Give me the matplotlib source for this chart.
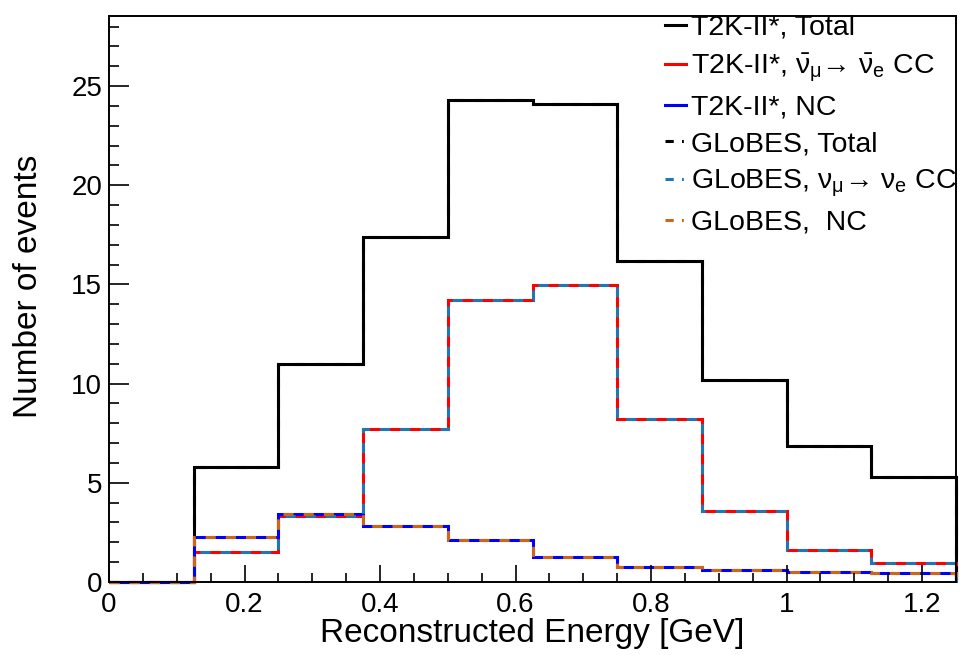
import numpy as np
import matplotlib
matplotlib.use('Agg')
import matplotlib.pyplot as plt
from matplotlib.lines import Line2D
from matplotlib.ticker import MultipleLocator, FormatStrFormatter

plt.rcParams['font.family'] = ['Liberation Sans', 'DejaVu Sans']
plt.rcParams['mathtext.fontset'] = 'custom'
plt.rcParams['mathtext.rm'] = 'Liberation Sans'
plt.rcParams['mathtext.it'] = 'Liberation Sans'

# bin edges of the reconstructed energy (GeV)
bordes = np.arange(0, 1.25 + 1e-9, 0.125)

# T2K-II* spectra
t2k_total = [0, 5.8, 11.0, 17.4, 24.3, 24.1, 16.2, 10.2, 6.85, 5.3]
t2k_cc = [0, 1.53, 3.35, 7.7, 14.2, 14.95, 8.2, 3.6, 1.62, 0.95]
t2k_nc = [0, 2.26, 3.42, 2.83, 2.1, 1.25, 0.74, 0.59, 0.52, 0.47]

# GLoBES spectra
glb_total = [0, 5.8, 11.0, 17.4, 24.3, 24.1, 16.2, 10.2, 6.85, 5.3]
glb_cc = [0, 1.53, 3.35, 7.7, 14.2, 14.95, 8.2, 3.6, 1.62, 0.95]
glb_nc = [0, 2.26, 3.42, 2.83, 2.1, 1.25, 0.74, 0.59, 0.52, 0.47]

etiquetas = ['T2K-II*, Total',
             'T2K-II*, $\\bar{\\nu}_{\\mu}$\u2192 $\\bar{\\nu}_{e}$ CC',
             'T2K-II*, NC',
             'GLoBES, Total',
             'GLoBES, $\\nu_{\\mu}$\u2192 $\\nu_{e}$ CC',
             'GLoBES,  NC']

c_negro = 'black'
c_rojo = '#ff0000'
c_azul = '#0000ff'
c_celeste = '#1f78b4'
c_naranja = '#cc6619'
lw = 2.2
guiones = (3.3, 3.3)

fig = plt.figure(figsize=(9.6, 6.55), dpi=100)
ax = fig.add_axes([109 / 960, 1 - 582 / 655, (956 - 109) / 960, (582 - 16) / 655])

# T2K-II* (solid)
for vals, col in [(t2k_total, c_negro), (t2k_cc, c_rojo), (t2k_nc, c_azul)]:
    ax.stairs(vals, bordes, baseline=0, color=col, lw=lw, clip_on=False)
# GLoBES (dashed on top)
for vals, col in [(glb_total, c_negro), (glb_cc, c_celeste), (glb_nc, c_naranja)]:
    ax.stairs(vals, bordes, baseline=0, color=col, lw=lw, linestyle=(0, guiones), clip_on=False)

ax.set_xlim(0, 1.25)
ax.set_ylim(0, 28.53)

ax.xaxis.set_major_locator(MultipleLocator(0.2))
ax.xaxis.set_minor_locator(MultipleLocator(0.05))
ax.xaxis.set_major_formatter(FormatStrFormatter('%g'))
ax.yaxis.set_major_locator(MultipleLocator(5))
ax.yaxis.set_minor_locator(MultipleLocator(1))

ax.tick_params(axis='both', which='both', direction='in', top=False, right=False,
               labelsize=20, width=1.2)
ax.tick_params(axis='x', which='major', length=12.5, pad=7)
ax.tick_params(axis='x', which='minor', length=6.5)
ax.tick_params(axis='y', which='major', length=14.5, pad=5)
ax.tick_params(axis='y', which='minor', length=7.2)
for sp in ax.spines.values():
    sp.set_linewidth(1.4)

ax.set_xlabel('Reconstructed Energy [GeV]', fontsize=24)
ax.set_ylabel('Number of events', fontsize=24)
ax.xaxis.set_label_coords(0.5, -0.064)
ax.yaxis.set_label_coords(-0.077, 0.523)

dash_dot = (0, (2.7, 2.7, 0.6, 2.7))
manejadores = [Line2D([], [], color=c_negro, lw=lw),
               Line2D([], [], color=c_rojo, lw=lw),
               Line2D([], [], color=c_azul, lw=lw),
               Line2D([], [], color=c_negro, lw=lw, linestyle=dash_dot),
               Line2D([], [], color=c_celeste, lw=lw, linestyle=dash_dot),
               Line2D([], [], color=c_naranja, lw=lw, linestyle=dash_dot)]
fig.legend(manejadores, etiquetas, loc='upper left',
           bbox_to_anchor=(665 / 960, 1 - 15 / 655), frameon=False,
           fontsize=20.5, handlelength=0.72, handletextpad=0.2,
           labelspacing=0.37, borderpad=0, borderaxespad=0)

fig.savefig('out.png', dpi=100)
